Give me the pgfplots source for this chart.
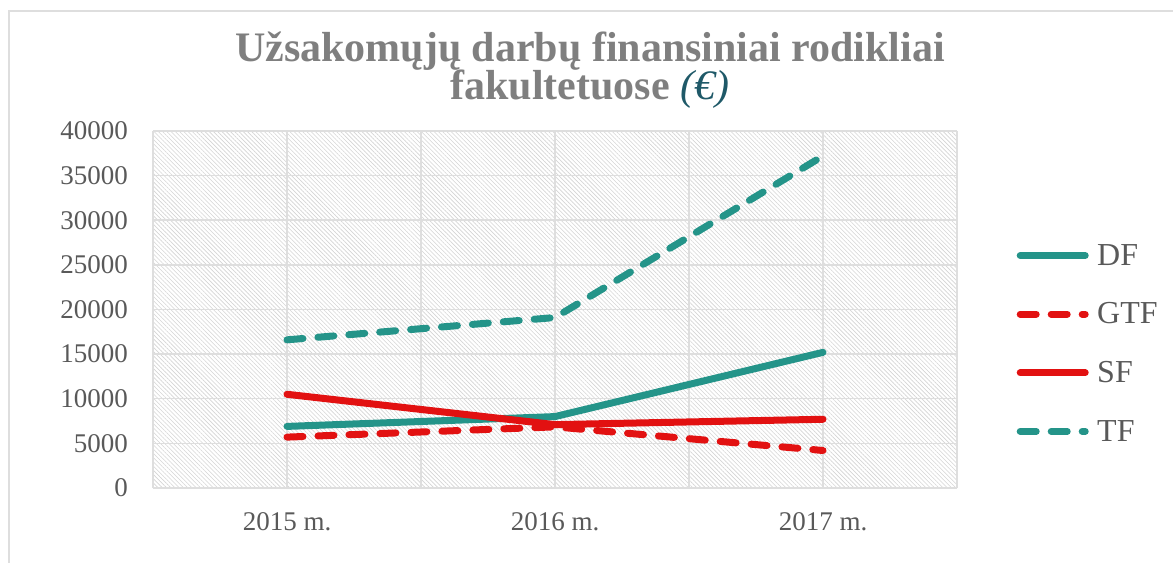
\documentclass[border=0pt]{standalone}
\usepackage{pgfplots}
\pgfplotsset{compat=1.18}
\usepackage{fontspec}
\setmainfont{Liberation Serif}
\usetikzlibrary{patterns.meta}
\definecolor{tealc}{RGB}{36,148,137}
\definecolor{redc}{RGB}{226,17,17}
\definecolor{titlegray}{RGB}{127,127,127}
\definecolor{eurocol}{RGB}{31,89,104}
\definecolor{ticktext}{RGB}{89,89,89}
\definecolor{gridc}{RGB}{222,222,222}
\definecolor{hatchc}{RGB}{212,212,212}

\begin{document}
\begin{tikzpicture}[x=1bp,y=1bp]
\useasboundingbox (0,0) rectangle (1173,563);
\draw[gridc, line width=2bp] (8.5,0) -- (8.5,552) -- (1173,552);
\node[anchor=base, text=titlegray, inner sep=0pt, font=\fontsize{42bp}{42bp}\selectfont\bfseries] at (590,501) {Užsakomųjų darbų finansiniai rodikliai};
\node[anchor=base, text=titlegray, inner sep=0pt, font=\fontsize{42bp}{42bp}\selectfont\bfseries] at (590,463) {fakultetuose {\mdseries\itshape\color{eurocol}(€)}};
\begin{axis}[
  at={(153bp,75bp)}, anchor=south west,
  scale only axis, width=804bp, height=357bp,
  xmin=0, xmax=6, ymin=0, ymax=40000,
  xtick={0,...,6}, xticklabels={,2015 m.,,2016 m.,,2017 m.,},
  ytick={0,5000,...,40000},
  scaled y ticks=false,
  /pgf/number format/set thousands separator={},
  /pgf/number format/assume math mode=true,
  grid=major, major grid style={gridc, line width=1.5bp},
  major tick length=0pt,
  axis x line*=bottom, axis y line*=left,
  x axis line style={gridc, line width=2bp},
  y axis line style={draw=none},
  axis background/.style={pattern={Lines[angle=-45,distance=3bp,line width=0.6bp]}, pattern color=hatchc},
  tick label style={font=\fontsize{27bp}{27bp}\selectfont, text=ticktext, inner sep=0pt},
  xticklabel shift=24bp,
  yticklabel shift=25bp,
  legend style={at={(1.074,0.405)}, anchor=west, draw=none, fill=none, inner sep=0pt,
    font=\fontsize{32bp}{32bp}\selectfont, text=ticktext, row sep=36bp,
    nodes={inner sep=0pt},
    /tikz/every odd column/.append style={column sep=8.5bp}},
  legend cell align=left,
  legend image code/.code={\draw[#1] (0bp,0bp) -- (65bp,0bp);},
  every axis plot/.append style={line width=7bp, line cap=round, line join=round},
  clip=false,
]
\addplot[tealc] coordinates {(1,6900) (3,8000) (5,15200)};
\addlegendentry{DF}
\addplot[redc, dash pattern=on 16bp off 15bp] coordinates {(1,5700) (3,6850) (5,4200)};
\addlegendentry{GTF}
\addplot[redc] coordinates {(1,10500) (3,7100) (5,7700)};
\addlegendentry{SF}
\addplot[tealc, dash pattern=on 16bp off 15bp] coordinates {(1,16600) (3,19100) (5,37200)};
\addlegendentry{TF}
\end{axis}
\end{tikzpicture}
\end{document}
